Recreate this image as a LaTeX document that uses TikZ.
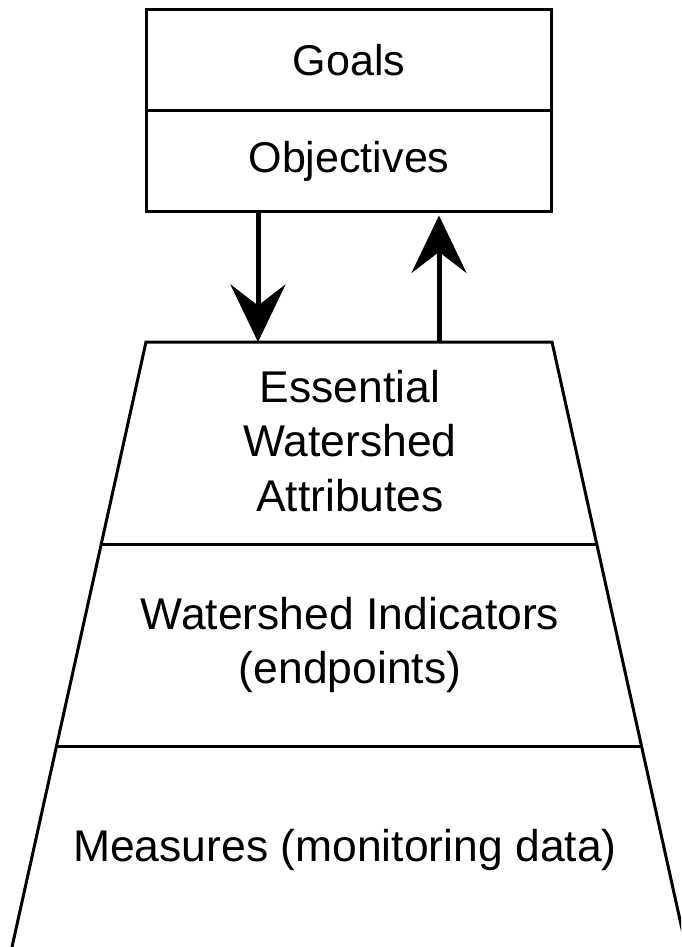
\documentclass[tikz,border=0pt]{standalone}
\usepackage{fontspec}
\setmainfont{Liberation Sans}
\usetikzlibrary{positioning}
\usetikzlibrary{arrows.meta}
\usetikzlibrary{calc}

\tikzset{
    layerbox/.style={draw,line width=0.06cm,outer sep=0pt,minimum width=8.12cm,minimum height=2.02cm},
    layertext/.style={align=center,font=\fontsize{25.3}{30.8}\selectfont},
    flowarrow/.style={line width=0.1cm,->},
}

\begin{document}
\begin{tikzpicture}[x=0.02cm,y=-0.02cm,>={Stealth[length=1.15cm,width=1.1cm,inset=0.42cm]},
    font=\fontsize{24.5}{30.8}\selectfont]
    \useasboundingbox (0,0) rectangle (681,947);
    \clip (0,0) rectangle (681,947);
    % goals / objectives box
    \node (goals) [layerbox] at (349,60) {Goals};
    \node (obj) [layerbox,below=0pt of goals] {Objectives};
    % trapezoid (open at the bottom)
    \coordinate (tl) at (146,342);
    \coordinate (tr) at (552,342);
    \coordinate (bl) at (12,947);
    \coordinate (br) at (686,947);
    \draw [line width=0.06cm,line join=miter] (bl) -- (tl) -- (tr) -- (br);
    \draw [line width=0.06cm] ($(tl)!0.3355!(bl)$) -- ($(tr)!0.3355!(br)$);
    \draw [line width=0.06cm] ($(tl)!0.6678!(bl)$) -- ($(tr)!0.6678!(br)$);
    \node (attr) [layertext] at (350,441) {Essential\\Watershed\\Attributes};
    \node (ind) [layertext] at (350,645) {Watershed Indicators\\(endpoints)};
    \node (meas) [layertext] at (345,850) {Measures (monitoring data)};
    % arrows
    \coordinate (dn) at (258,342);
    \coordinate (up) at (439,342);
    \draw [flowarrow] (obj.south -| dn) -- (dn);
    \draw [flowarrow] (up) -- ($(obj.south -| up)+(0,4)$);
\end{tikzpicture}
\end{document}
